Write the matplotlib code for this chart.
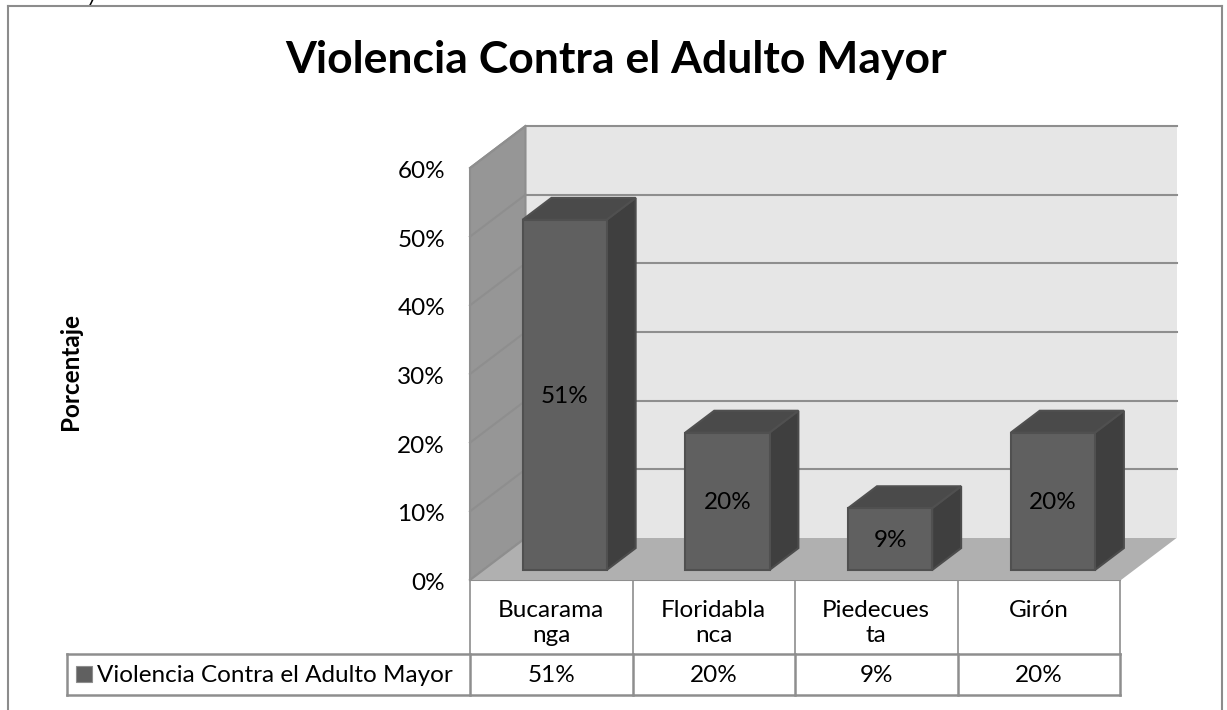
import matplotlib
matplotlib.use("Agg")
import matplotlib.pyplot as plt
from matplotlib.patches import Polygon, Rectangle

plt.rcParams['font.family'] = ['Lato', 'DejaVu Sans']

# Data
categories = ['Bucarama\nnga', 'Floridabla\nnca', 'Piedecues\nta', 'Girón']
values = [51, 20, 9, 20]
y_ticks = [0, 10, 20, 30, 40, 50, 60]
series_name = 'Violencia Contra el Adulto Mayor'
title = 'Violencia Contra el Adulto Mayor'
y_label = 'Porcentaje'

W, H = 1227, 710
fig = plt.figure(figsize=(W / 100, H / 100), dpi=100)

# overlay in pixel coordinates for the frame and the data table
pix = fig.add_axes([0, 0, 1, 1])
pix.set_xlim(0, W)
pix.set_ylim(H, 0)
pix.axis('off')

# main axes: x in categories, y in percent, placed on the front plane of the 3D box
left, right, bottom, top = 470, 1121, 580, 168
ax = fig.add_axes([left / W, 1 - bottom / H, (right - left) / W, (bottom - top) / H])
ax.set_xlim(0, len(categories))
ax.set_ylim(0, 60)
ax.axis('off')

# oblique depth of the box, in data units
depth_x = 55.5 / ((right - left) / len(categories))
depth_y = 42 / ((bottom - top) / 60)


def proj(x, y, d):
    return (x + d * depth_x, y + d * depth_y)


def face(points, color, edge, z, lw=1.5):
    ax.add_patch(Polygon([proj(*p) for p in points], closed=True, facecolor=color,
                         edgecolor=edge, linewidth=lw, zorder=z, clip_on=False))


line_col = '#8e8e8e'
n = len(categories)
label_size = 17.5

# walls and floor
face([(0, 0, 1), (n, 0, 1), (n, 60, 1), (0, 60, 1)], '#e6e6e6', 'none', 1)
face([(0, 0, 0), (0, 0, 1), (0, 60, 1), (0, 60, 0)], '#969696', line_col, 2)
face([(0, 0, 0), (n, 0, 0), (n, 0, 1), (0, 0, 1)], '#b0b0b0', 'none', 2)

# gridlines
for t in y_ticks:
    x0, y0 = proj(0, t, 0)
    x1, y1 = proj(0, t, 1)
    x2, y2 = proj(n, t, 1)
    ax.plot([x0, x1], [y0, y1], color=line_col, lw=1.5, zorder=3, clip_on=False)
    if t > 0:
        ax.plot([x1, x2], [y1, y2], color=line_col, lw=1.5, zorder=3, clip_on=False)
    ax.annotate(f'{t}%', (0, t), xytext=(-18, -2.5), textcoords='offset points',
                ha='right', va='center', fontsize=label_size, color='black', annotation_clip=False)

# bars
bar_w = 0.517
d0, d1 = 0.24, 0.76
for i, v in enumerate(values):
    xa = i + 0.5 - bar_w / 2
    xb = i + 0.5 + bar_w / 2
    face([(xb, 0, d0), (xb, 0, d1), (xb, v, d1), (xb, v, d0)], '#3f3f3f', '#4c4c4c', 5)
    face([(xa, v, d0), (xb, v, d0), (xb, v, d1), (xa, v, d1)], '#4a4a4a', '#505050', 5)
    face([(xa, 0, d0), (xb, 0, d0), (xb, v, d0), (xa, v, d0)], '#606060', '#505050', 6)
    cx, cy = proj(i + 0.5, v / 2, d0)
    ax.text(cx, cy - 0.2, f'{v}%', ha='center', va='center', fontsize=label_size, color='black', zorder=7)

# outer frame, runs off the bottom of the picture
pix.plot([8, 8], [H, 6], color='#8c8c8c', lw=1.5)
pix.plot([8, 1222], [6, 6], color='#8c8c8c', lw=1.5)
pix.plot([1222, 1222], [6, H], color='#8c8c8c', lw=1.5)

# scrap of text cut off at the top of the page
pix.text(92, 1, 'y', fontsize=15, style='italic', ha='center', va='baseline', clip_on=False)

# titles
pix.text(616, 60, title, fontsize=32, fontweight='bold', ha='center', va='center')
pix.text(70, 372, y_label, fontsize=17.5, fontweight='bold', rotation=90, ha='center', va='center')

# data table
col_x = [470 + (1120 - 470) * i / n for i in range(n + 1)]
tbl_col = '#8e8e8e'
for x in col_x:
    pix.plot([x, x], [580, 654], color=tbl_col, lw=1.2, zorder=1)
    pix.plot([x, x], [654, 695], color=tbl_col, lw=1.8, zorder=1)
pix.plot([470, 1120], [580, 580], color=tbl_col, lw=1.5, zorder=1)
pix.plot([67, 1120], [654, 654], color=tbl_col, lw=1.8)
pix.plot([67, 1120], [695, 695], color=tbl_col, lw=1.8)
pix.plot([67, 67], [654, 695], color=tbl_col, lw=1.8)

pix.add_patch(Rectangle((76, 666), 16, 16, facecolor='#606060', edgecolor='#8e8e8e', lw=0.8))
pix.text(97, 675, series_name, fontsize=label_size, ha='left', va='center')
for i in range(n):
    cx = (col_x[i] + col_x[i + 1]) / 2
    pix.text(cx, 675, f'{values[i]}%', fontsize=label_size, ha='center', va='center')
    pix.text(cx, 600, categories[i], fontsize=label_size, ha='center', va='top', linespacing=1.25)

fig.savefig('out.png', dpi=100)
